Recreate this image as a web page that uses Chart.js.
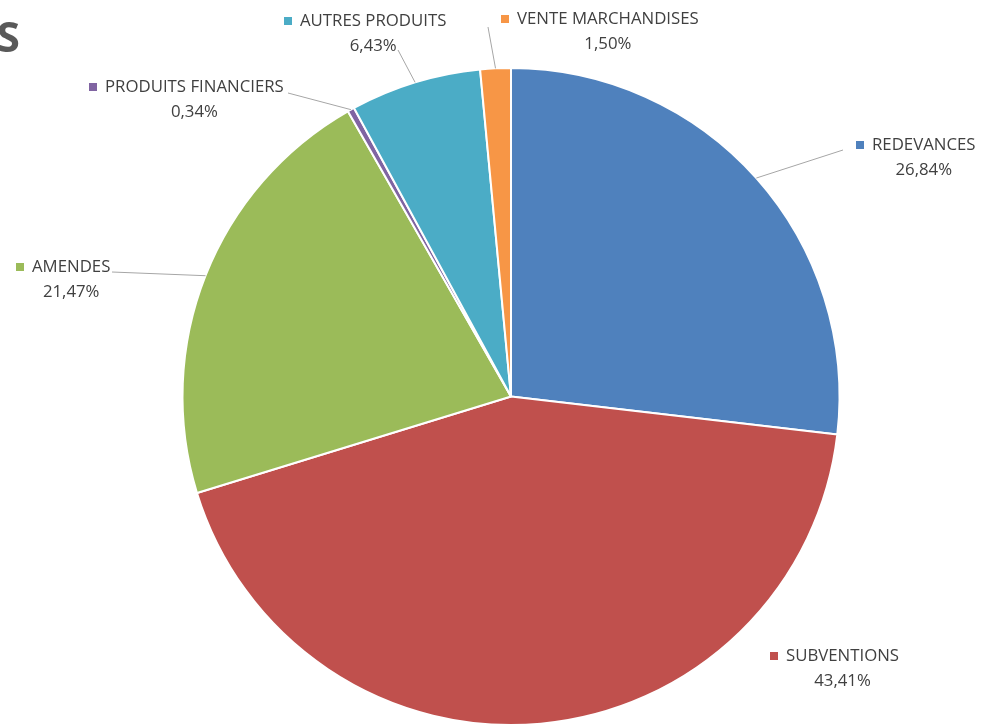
<!DOCTYPE html>
<html>
<head>
<meta charset="utf-8">
<script src="https://cdn.jsdelivr.net/npm/chart.js@4.4.1/dist/chart.umd.min.js"></script>
<style>
  html, body { margin: 0; padding: 0; background: #fff; overflow: hidden; }
  #wrap { position: relative; width: 982px; height: 726px; }
</style>
</head>
<body>
<div id="wrap"><canvas id="pie"></canvas></div>
<script>
const categories = [
  "REDEVANCES",
  "SUBVENTIONS",
  "AMENDES",
  "PRODUITS FINANCIERS",
  "AUTRES PRODUITS",
  "VENTE MARCHANDISES",
];
const shares = [26.84, 43.41, 21.47, 0.34, 6.43, 1.5];
const colors = ["#4F81BD", "#C0504D", "#9BBB59", "#8064A2", "#4BACC6", "#F79646"];

// where each label sits (left of name text, middle y) and where its leader line ends
const labelAt = [[872, 145], [786, 656], [32, 267], [105, 87], [300, 21], [517, 19]];
const leaderEnd = [[843, 150], null, [112, 272], [288, 93], [398, 50], [488, 27]];

const labelFont = '16.8px "Open Sans"';

const outsideLabels = {
  id: "outsideLabels",
  afterDraw(chart) {
    const c = chart.ctx;
    const arcs = chart.getDatasetMeta(0).data;
    c.save();
    // title remnant at the left edge
    c.fillStyle = "#595959";
    c.font = 'bold 42px "Noto Sans"';
    c.textAlign = "right";
    c.textBaseline = "alphabetic";
    c.fillText("TS", 20, 52);

    arcs.forEach((arc, i) => {
      const mid = (arc.startAngle + arc.endAngle) / 2;
      const end = leaderEnd[i];
      if (end) {
        c.strokeStyle = "#a6a6a6";
        c.lineWidth = 1;
        c.beginPath();
        c.moveTo(arc.x + Math.cos(mid) * arc.outerRadius, arc.y + Math.sin(mid) * arc.outerRadius);
        c.lineTo(end[0], end[1]);
        c.stroke();
      }
      const [x, y] = labelAt[i];
      c.font = labelFont;
      c.textBaseline = "middle";
      c.textAlign = "left";
      c.fillStyle = colors[i];
      c.fillRect(x - 16, y - 4, 8, 8);
      c.fillStyle = "#404040";
      c.fillText(categories[i], x, y);
      const w = c.measureText(categories[i]).width;
      c.textAlign = "center";
      c.fillText(shares[i].toFixed(2).replace(".", ",") + "%", x + w / 2, y + 25);
    });
    c.restore();
  },
};

new Chart(document.getElementById("pie"), {
  type: "pie",
  data: {
    labels: categories,
    datasets: [
      {
        data: shares,
        backgroundColor: colors,
        borderColor: "#ffffff",
        borderWidth: 2,
      },
    ],
  },
  options: {
    responsive: true,
    maintainAspectRatio: false,
    animation: false,
    layout: { padding: { top: 67, bottom: 0, left: 40, right: 0 } },
    plugins: {
      legend: { display: false },
      tooltip: { enabled: false },
    },
  },
  plugins: [outsideLabels],
});
</script>
</body>
</html>
